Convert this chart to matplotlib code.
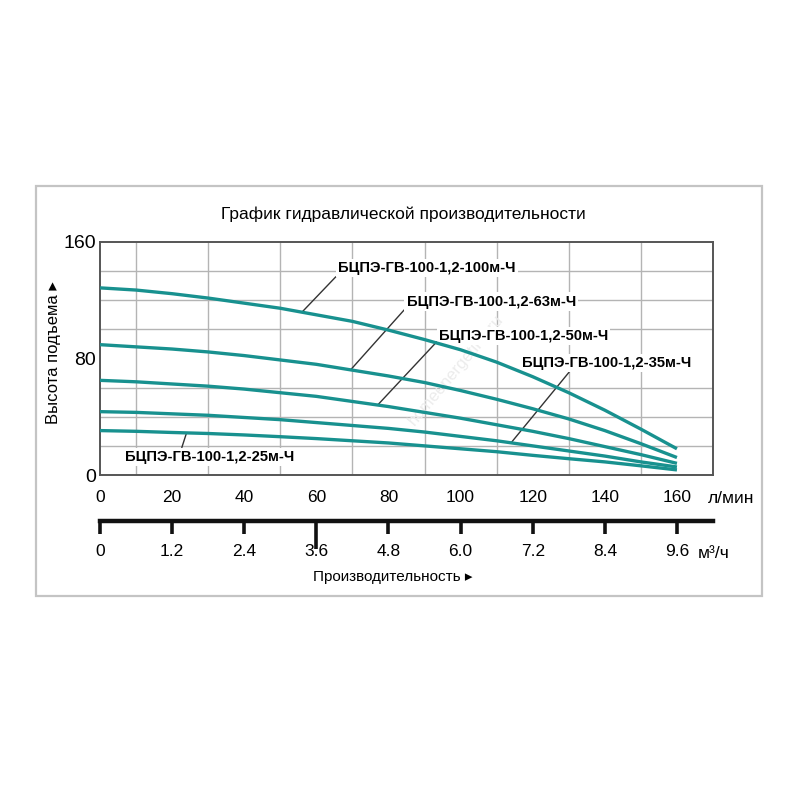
import numpy as np
import matplotlib
matplotlib.use("Agg")
import matplotlib.pyplot as plt
from matplotlib.patches import Rectangle

plt.rcParams["font.family"] = ["Liberation Sans", "DejaVu Sans"]

# flow, l/min
flow = [0, 10, 20, 30, 40, 50, 60, 70, 80, 90, 100, 110, 120, 130, 140, 150, 160]
# head, m
head_100 = [128.5, 127, 124.5, 121.5, 118, 114.5, 110, 105.5, 99.5, 93, 86, 77.5, 67.5, 56.5, 44.5, 31.5, 18]
head_63 = [89.5, 88, 86.5, 84.5, 82, 79, 76, 72, 68, 63.5, 58, 52, 45.5, 38.5, 30.5, 21.5, 12]
head_50 = [65, 64, 62.5, 61, 59, 56.5, 54, 50.5, 47, 43, 39, 34.5, 30, 25, 19.5, 14, 8]
head_35 = [43.5, 43, 42, 41, 39.5, 38, 36, 34, 32, 29.5, 26.5, 23.5, 20, 16.5, 13, 9, 5.5]
head_25 = [30.5, 30, 29.2, 28.5, 27.5, 26.3, 25, 23.5, 22, 20, 18, 16, 13.5, 11.2, 9, 6.3, 3.5]

names = ["БЦПЭ-ГВ-100-1,2-100м-Ч", "БЦПЭ-ГВ-100-1,2-63м-Ч", "БЦПЭ-ГВ-100-1,2-50м-Ч",
         "БЦПЭ-ГВ-100-1,2-35м-Ч", "БЦПЭ-ГВ-100-1,2-25м-Ч"]
curves = [head_100, head_63, head_50, head_35, head_25]

lmin_ticks = [0, 20, 40, 60, 80, 100, 120, 140, 160]
m3h_ticks = [0, 1.2, 2.4, 3.6, 4.8, 6.0, 7.2, 8.4, 9.6]
y_ticks = [0, 80, 160]

# label placement: (flow on curve, text x, text y, relpos)
label_pos = [
    (56, 66, 142, (0, 0.05)),
    (69.5, 85, 119, (0, 0.1)),
    (77, 94, 95.5, (0, 0.25)),
    (114, 117, 77, (0.29, 0)),
    (24, 7, 12.5, (0.33, 1)),
]

W, H = 800, 800
fig = plt.figure(figsize=(8, 8), dpi=100)

# outer frame
fig.patches.append(Rectangle((36 / W, 1 - 596 / H), (762 - 36) / W, (596 - 186) / H,
                             transform=fig.transFigure, fill=False,
                             edgecolor="#c4c4c4", linewidth=1.6))

ax = fig.add_axes([100 / W, 1 - 475 / H, 613 / W, 233 / H])
ax.set_xlim(0, 170)
ax.set_ylim(0, 160)
ax.set_xticks(np.arange(0, 171, 10), minor=True)
ax.set_yticks(np.arange(0, 161, 20), minor=True)
ax.set_xticks(lmin_ticks)
ax.set_yticks(y_ticks)
ax.grid(True, which="minor", color="#b4b4b4", linewidth=1.0)
ax.set_axisbelow(True)
ax.tick_params(which="both", length=0)
ax.tick_params(axis="x", pad=11, labelsize=12.5)
ax.tick_params(axis="y", pad=3, labelsize=14)
for s in ax.spines.values():
    s.set_color("#555555")
    s.set_linewidth(1.4)

teal = "#18918f"
for h in curves:
    ax.plot(flow, h, color=teal, linewidth=2.4, solid_capstyle="butt", zorder=5)

for name, h, (q, tx, ty, rp) in zip(names, curves, label_pos):
    ax.annotate(name, xy=(q, np.interp(q, flow, h)), xytext=(tx, ty),
                ha="left", va="center", fontsize=10.6, fontweight="bold",
                bbox=dict(boxstyle="square,pad=0.15", fc="white", ec="none"),
                arrowprops=dict(arrowstyle="-", color="#333333", lw=1.0,
                                shrinkA=0, shrinkB=0, relpos=rp),
                zorder=4)

# watermark
ax.text(0.58, 0.45, "homeenergetika.ru", transform=ax.transAxes, rotation=50,
        fontsize=12, color="#ececec", ha="center", va="center", zorder=2)

# second scale, m3/h
ax2 = fig.add_axes([100 / W, 1 - 520.7 / H, 613 / W, 0.0001])
ax2.set_xlim(0, 170)
ax2.set_ylim(0, 1)
ax2.set_yticks([])
for k in ["top", "left", "right"]:
    ax2.spines[k].set_visible(False)
ax2.spines["bottom"].set_linewidth(3.2)
ax2.spines["bottom"].set_color("#111111")
ax2.set_xticks([m / 0.06 for m in m3h_ticks])
ax2.set_xticklabels(["0" if m == 0 else "%.1f" % m for m in m3h_ticks])
ax2.tick_params(axis="x", direction="out", length=9, width=2.6, color="#111111",
                pad=8, labelsize=12.5)
ax2.xaxis.get_major_ticks()[3].tick1line.set_markersize(20)

fig.text(403 / W, 1 - 214 / H, "График гидравлической производительности",
         ha="center", va="center", fontsize=12.5)
fig.text(708 / W, 1 - 498 / H, "л/мин", ha="left", va="center", fontsize=12.5)
fig.text(698 / W, 1 - 553 / H, "м³/ч", ha="left", va="center", fontsize=12.5)
fig.text(393 / W, 1 - 577 / H, "Производительность ▸", ha="center", va="center",
         fontsize=11)
fig.text(54 / W, 1 - 353 / H, "Высота подъема ▸", ha="center", va="center",
         rotation=90, fontsize=12)

fig.savefig("out.png", dpi=100, facecolor="white")
